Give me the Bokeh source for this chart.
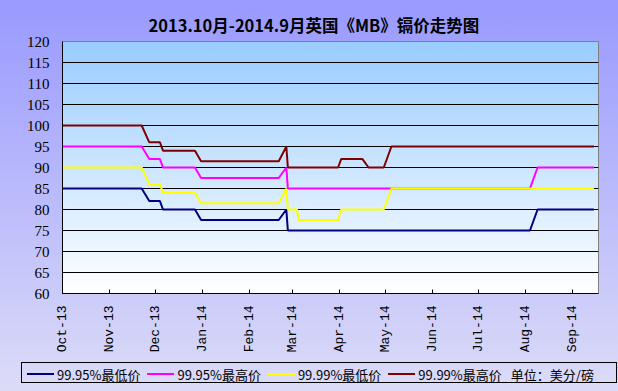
import math
import datetime as dt
from bokeh.plotting import figure
from bokeh.layouts import column
from bokeh.models import (Range1d, DatetimeTickFormatter, MonthsTicker,
                          SingleIntervalTicker, ColumnDataSource, Div)
from bokeh.embed import file_html
from bokeh.resources import INLINE

# ---- data ----
dates = ["2013-10-01", "2013-11-22", "2013-11-27", "2013-12-04", "2013-12-06",
         "2013-12-27", "2013-12-31", "2014-02-20", "2014-02-25", "2014-02-26",
         "2014-03-04", "2014-03-05", "2014-03-31", "2014-04-02", "2014-04-16",
         "2014-04-20", "2014-04-30", "2014-05-05", "2014-08-04", "2014-08-09",
         "2014-09-15"]
min_9995 = [85, 85, 82, 82, 80, 80, 77.5, 77.5, 80, 75, 75, 75, 75, 75, 75, 75, 75, 75, 75, 80, 80]
max_9995 = [95, 95, 92, 92, 90, 90, 87.5, 87.5, 90, 85, 85, 85, 85, 85, 85, 85, 85, 85, 85, 90, 90]
min_9999 = [90, 90, 86, 86, 84, 84, 81.5, 81.5, 85, 80, 80, 77.5, 77.5, 80, 80, 80, 80, 85, 85, 85, 85]
max_9999 = [100, 100, 96, 96, 94, 94, 91.5, 91.5, 95, 90, 90, 90, 90, 92, 92, 90, 90, 95, 95, 95, 95]
series_names = ["99.95%最低价", "99.95%最高价", "99.99%最低价", "99.99%最高价"]
unit_text = "单位：美分/磅"
title_text = "2013.10月-2014.9月英国《MB》镉价走势图"

x = [dt.datetime.strptime(d, "%Y-%m-%d") for d in dates]
src = ColumnDataSource(dict(x=x, a=min_9995, b=max_9995, c=min_9999, d=max_9999))
colors = ["#000080", "#ff00ff", "#ffff00", "#800000"]
cols = ["a", "b", "c", "d"]

p = figure(width=618, height=355, output_backend="svg", toolbar_location=None,
           x_axis_type="datetime",
           x_range=Range1d(dt.datetime(2013, 10, 1), dt.datetime(2014, 9, 18)),
           y_range=Range1d(60, 120),
           min_border_left=62, min_border_right=20, min_border_top=41,
           min_border_bottom=61)
p.background_fill_color = None
p.border_fill_color = None
p.outline_line_color = "#808080"

# title
p.title.text = title_text
p.title.text_font = "Noto Sans CJK SC"
p.title.text_font_style = "bold"
p.title.text_font_size = "16.5px"
p.title.align = "left"
p.title.offset = 86
p.title.text_color = "black"

for col, c in zip(cols, colors):
    p.line("x", col, source=src, line_color=c, line_width=2)

# axes
p.yaxis.ticker = SingleIntervalTicker(interval=5, num_minor_ticks=0)
p.ygrid.ticker = SingleIntervalTicker(interval=5, num_minor_ticks=0)
p.ygrid.grid_line_color = "black"
p.xgrid.visible = False
p.yaxis.major_tick_in = 0
p.yaxis.major_tick_out = 0
p.yaxis.minor_tick_line_color = None
p.yaxis.axis_line_color = "black"
p.yaxis.major_label_text_font = "Liberation Serif"
p.yaxis.major_label_text_font_size = "15px"
p.yaxis.major_label_text_color = "black"
p.yaxis.major_label_standoff = 13

p.xaxis.ticker = MonthsTicker(months=list(range(12)))
p.xaxis.formatter = DatetimeTickFormatter(months="%b-%y", days="%b-%y")
p.xaxis.major_label_orientation = math.pi / 2
p.xaxis.major_tick_in = 4
p.xaxis.major_tick_out = 0
p.xaxis.minor_tick_line_color = None
p.xaxis.axis_line_color = "black"
p.xaxis.major_label_text_font = "Liberation Mono"
p.xaxis.major_label_text_font_size = "13px"
p.xaxis.major_label_text_color = "black"
p.xaxis.major_label_standoff = 12

# ---- legend strip (HTML, real text) ----
items_html = ""
for i, (name, c) in enumerate(zip(series_names, colors)):
    ml = "0" if i == 0 else "7px"
    items_html += (
        f'<span style="display:inline-block;width:27px;height:0;border-top:2px solid {c};'
        f'margin-left:{ml};margin-right:3px;vertical-align:middle;"></span>'
        f'<span style="vertical-align:middle;">{name}</span>'
    )
items_html += f'<span style="vertical-align:middle;margin-left:9px;">{unit_text}</span>'
legend_html = (
    '<div style="position:relative;width:618px;height:36px;margin:0;padding:0;">'
    '<div style="position:absolute;left:21px;top:7px;width:596px;height:21px;box-sizing:border-box;'
    'border:1px solid #000;padding-left:5px;white-space:nowrap;overflow:hidden;'
    "font-family:'Noto Sans CJK SC';font-size:13px;color:#000;line-height:19px;\">"
    + items_html + '</div></div>'
)
lg = Div(text=legend_html, width=618, height=36, margin=0,
         styles={"margin": "0", "padding": "0"})

layout = column(p, lg, spacing=0)
layout.styles = {
    "background": ("linear-gradient(to bottom, #99ccff, #ffffff) 62px 41px / 536px 253px no-repeat, "
                   "linear-gradient(to bottom, #9999ff, #dcdcf8)")
}

open("out.html", "w").write(file_html(layout, INLINE))
